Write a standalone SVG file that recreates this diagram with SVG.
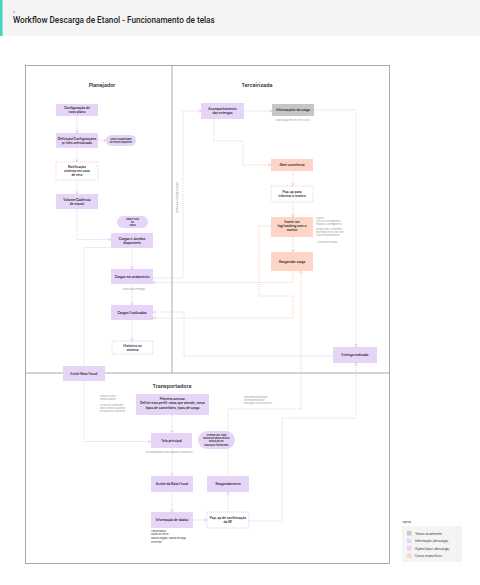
<svg xmlns="http://www.w3.org/2000/svg" width="480" height="585" viewBox="0 0 480 585">
<style>
.t{font-family:Inter,Roboto,"Liberation Sans",sans-serif;font-size:3.2px;font-weight:600;fill:#1f1f1f;text-anchor:middle}
.s{font-family:Inter,Roboto,"Liberation Sans",sans-serif;font-size:2.3px;font-weight:600;fill:#1f1f1f;text-anchor:middle}
.a{font-family:Inter,Roboto,"Liberation Sans",sans-serif;font-size:2.4px;fill:#9a9a9a}
.h{font-family:Inter,Roboto,"Liberation Sans",sans-serif;font-size:5.2px;font-weight:600;fill:#1f1f1f;text-anchor:middle}
.pu{fill:#e7d5f8}
.or{fill:#fdd4c6}
.gr{fill:#c6c6c6}
.dp{fill:#fff;stroke:#d9bdf5;stroke-width:0.8;stroke-dasharray:1 1}
.do{fill:#fff;stroke:#f8bfa9;stroke-width:0.8;stroke-dasharray:1 1}
.cp{fill:none;stroke:#dcc2f6;stroke-width:0.8;stroke-dasharray:1 1;marker-end:url(#mp)}
.co{fill:none;stroke:#f9c3ae;stroke-width:0.8;stroke-dasharray:1 1;marker-end:url(#mo)}
.cpn{fill:none;stroke:#dcc2f6;stroke-width:0.8;stroke-dasharray:1 1}
</style>
<defs>
<marker id="mp" viewBox="0 0 6 6" refX="5.5" refY="3" markerWidth="3.5" markerHeight="3.5" markerUnits="userSpaceOnUse" orient="auto"><path d="M0.5,0.5 L5.5,3 L0.5,5.5" fill="none" stroke="#d3b2f3" stroke-width="0.9"/></marker>
<marker id="mo" viewBox="0 0 6 6" refX="5.5" refY="3" markerWidth="3.5" markerHeight="3.5" markerUnits="userSpaceOnUse" orient="auto"><path d="M0.5,0.5 L5.5,3 L0.5,5.5" fill="none" stroke="#f6b59c" stroke-width="0.9"/></marker>
</defs>
<rect x="0" y="0" width="480" height="585" fill="#fff"/>
<g id="header">
<rect x="0" y="0" width="480" height="36" fill="#f4f4f4"/>
<rect x="0" y="0" width="2.5" height="36" fill="#3fd3c0"/>
<text x="13" y="12.5" style="font-family:Inter,Roboto,sans-serif;font-size:2.4px;fill:#555">v1</text>
<text x="13" y="22.5" style="font-family:Roboto,Inter,'Liberation Sans',sans-serif;font-size:8.2px;font-weight:500;fill:#1f1f1f">Workflow Descarga de Etanol - Funcionamento de telas</text>
</g>
<g id="frame" fill="none" stroke="#969696" stroke-width="0.8">
<rect x="25.5" y="65.5" width="364" height="498"/>
<line x1="172" y1="65.5" x2="172" y2="373"/>
<line x1="25.5" y1="373" x2="389.5" y2="373"/>
</g>
<text class="h" x="102" y="86.5">Planejador</text>
<text class="h" x="257" y="86.5">Terceirizada</text>
<text class="h" x="172" y="387.5">Transportadora</text>

<g id="connectors">
<path class="cp" d="M77,116 V133"/>
<path class="cp" d="M98,140.5 H106"/>
<path class="cp" d="M77,148 V162"/>
<path class="cp" d="M77,180 V194"/>
<path class="cp" d="M77,209 V239.5 H111"/>
<path class="cpn" d="M111,247.5 H84 V366"/>
<path class="cp" d="M84,381 V441.5 H151"/>
<path class="cp" d="M132,248 V269"/>
<path class="cp" d="M132,284 V305"/>
<path class="cp" d="M132,320 V341"/>
<path class="cp" d="M153,278 H183 V111 H201"/>
<path class="cp" d="M244,111 H272"/>
<path class="cp" d="M314,110 H356 V347"/>
<path class="cp" d="M333,356 H184 V312 H153"/>
<path class="co" d="M214,119 V141 H243 V165 H271"/>
<path class="co" d="M293,171 V186"/>
<path class="co" d="M293,202 V217"/>
<path class="co" d="M293,237 V252"/>
<path class="co" d="M293,271 V282.5 H153"/>
<path class="co" d="M271,226 H259 V296 H293 V318 H153"/>
<path class="co" d="M228,476 V409 H301 V271"/>
<path class="cp" d="M172,415 V433"/>
<path class="cp" d="M172,448 V476"/>
<path class="cp" d="M172,492 V512"/>
<path class="cp" d="M193,520 H207"/>
<path class="cp" d="M228,512 V492"/>
<path class="cp" d="M249,521 H282 V418 H356 V363"/>
</g>

<g id="n-config"><rect class="pu" x="56" y="104" width="42" height="12"/><text class="t" x="77" y="109.3">Configuração de</text><text class="t" x="77" y="113.3">novo plano</text></g>
<g id="n-definicao"><rect class="pu" x="56" y="133" width="42" height="15"/><text class="t" x="77" y="139.5">Definição/Configurações</text><text class="t" x="77" y="143.5">p/ mês selecionado</text></g>
<g id="n-exibir"><rect class="pu" x="106" y="135" width="30" height="11" rx="5.5"/><text class="s" x="121" y="140">Exibir a quantidade</text><text class="s" x="121" y="143">de etanol disponível</text></g>
<g id="n-notificacao"><rect class="do" x="56" y="162" width="42" height="18"/><text class="t" x="77" y="167.5">Notificação</text><text class="t" x="77" y="171.5">sistema em caso</text><text class="t" x="77" y="175.5">de erro</text></g>
<g id="n-volume"><rect class="pu" x="56" y="194" width="42" height="15"/><text class="t" x="77" y="200.5">Volume/Cadência</text><text class="t" x="77" y="204.5">de etanol</text></g>
<g id="n-data"><rect class="pu" x="117" y="216" width="31" height="12" rx="6"/><text class="s" x="132.5" y="220.3">Data e hora</text><text class="s" x="132.5" y="223.3">NF</text><text class="s" x="132.5" y="226.3">Placa</text></g>
<g id="n-janelas"><rect class="pu" x="111" y="233" width="42" height="15"/><text class="t" x="132" y="239.5">Cargas e Janelas</text><text class="t" x="132" y="243.5">disponíveis</text></g>
<g id="n-andamento"><rect class="pu" x="111" y="269" width="42" height="15"/><text class="t" x="132" y="277.6">Cargas em andamento</text></g>
<text class="a" x="134" y="289.5" text-anchor="middle">Status das entregas</text>
<g id="n-finalizadas"><rect class="pu" x="111" y="305" width="42" height="15"/><text class="t" x="132" y="313.6">Cargas Finalizadas</text></g>
<g id="n-historico"><rect class="dp" x="112" y="341" width="41" height="13"/><text class="t" x="132.5" y="346.6">Histórico no</text><text class="t" x="132.5" y="350.6">sistema</text></g>
<g id="n-emitir"><rect class="pu" x="63" y="366" width="42" height="15"/><text class="t" x="84" y="374.6">Emitir Nota Fiscal</text></g>

<text class="a" transform="translate(178,213) rotate(-90)">Status das entregas/cargas</text>
<g id="n-acompanhamento"><rect class="pu" x="201" y="103" width="43" height="16"/><text class="t" x="222.5" y="109.8">Acompanhamento</text><text class="t" x="222.5" y="113.8">das entregas</text></g>
<g id="n-informacoes"><rect class="gr" x="272" y="104" width="42" height="12"/><text class="t" x="293" y="111.2">Informações da carga</text></g>
<text class="a" x="293" y="120.5" text-anchor="middle" style="font-size:2.2px">cada carga deve ter um ID único</text>
<g id="n-abrir"><rect class="or" x="271" y="159" width="42" height="12"/><text class="t" x="292" y="166.2">Abrir ocorrência</text></g>
<g id="n-popup"><rect class="do" x="271" y="186" width="42" height="16"/><text class="t" x="292" y="192.8">Pop-up para</text><text class="t" x="292" y="196.8">informar o motivo</text></g>
<g id="n-inserir"><rect class="or" x="271" y="217" width="42" height="20"/><text class="t" x="292" y="222.8">Inserir um</text><text class="t" x="292" y="226.8">log/tracking com o</text><text class="t" x="292" y="230.8">motivo</text></g>
<g class="a" style="font-size:2.2px"><text x="316" y="219">Atrasos</text><text x="316" y="222">Veículo e carregamento</text><text x="316" y="225">finalizou o carregamento</text><text x="316" y="230">Chegou mas o caminhão</text><text x="316" y="233">não estava de acordo com</text><text x="316" y="236">o que era previamente</text><text x="316" y="243">- caminhão rejeitado</text></g>
<g id="n-reagendar"><rect class="or" x="271" y="252" width="42" height="19"/><text class="t" x="292" y="262.6">Reagendar carga</text></g>
<g id="n-entrega"><rect class="pu" x="333" y="347" width="44" height="16"/><text class="t" x="355" y="356.1">Entrega realizada</text></g>

<g class="a" style="font-size:2.2px"><text x="100" y="396.5">explorar com a</text><text x="100" y="399.5">transportadora</text><text x="100" y="405.5">os tipos de caminhões</text><text x="100" y="408.8">mais comum a cadastrar</text><text x="100" y="412.1">de nossa lista (backend)</text></g>
<g id="n-primeiro"><rect class="pu" x="136" y="394" width="73" height="21"/><text class="t" x="172.5" y="399.8">Primeiro acesso:</text><text class="t" x="172.5" y="404.3">Definir meu perfil: rotas que atende, meus</text><text class="t" x="172.5" y="408.8">tipos de caminhões, tipos de carga</text></g>
<g class="a" style="font-size:2.2px"><text x="244" y="397.5">Responde questionário,</text><text x="244" y="400.7">informa previsão de</text><text x="244" y="403.9">descarga e novos arquivos</text></g>
<g id="n-tela"><rect class="pu" x="151" y="433" width="41" height="15"/><text class="t" x="171.5" y="441.6">Tela principal</text></g>
<g id="n-ordenar"><rect class="pu" x="198" y="431" width="37" height="18" rx="9"/><text class="s" x="216.5" y="435.6">Ordenar por: Data</text><text class="s" x="216.5" y="439">Busca por placa veículo</text><text class="s" x="216.5" y="442.4">Busca por NF</text><text class="s" x="216.5" y="445.8">Busca por fornecedor</text></g>
<text class="a" x="146" y="453" style="font-size:2.2px">acompanhamento das cargas/NF disponíveis</text>
<g id="n-aceite"><rect class="pu" x="151" y="476" width="42" height="16"/><text class="t" x="172" y="485.1">Aceite da Nota Fiscal</text></g>
<g id="n-reagendamento"><rect class="pu" x="207" y="476" width="42" height="16"/><text class="t" x="228" y="485.1">Reagendamento</text></g>
<g id="n-dados"><rect class="pu" x="151" y="512" width="42" height="16"/><text class="t" x="172" y="521.1">Informação de dados</text></g>
<g style="font-family:Inter,Roboto,sans-serif;font-size:2px;fill:#333"><text x="151" y="531.5">Transportadora</text><text x="151" y="535.3">Modelo do veículo</text><text x="151" y="539.1">Data de chegada / Data de descarga</text><text x="151" y="542.9">Fornecedor</text></g>
<g id="n-confirmacao"><rect class="dp" x="207" y="512" width="42" height="16"/><text class="t" x="228" y="519">Pop-up de confirmação</text><text class="t" x="228" y="523">da NF</text></g>

<g id="legend">
<text x="402" y="523" style="font-family:Inter,Roboto,sans-serif;font-size:2.2px;fill:#333">Legenda</text>
<rect x="402" y="526" width="60" height="36" fill="#f4f4f4"/>
<rect x="407" y="531" width="4.5" height="4.5" fill="#c6c6c6"/>
<rect x="407" y="538.5" width="4.5" height="4.5" fill="#e7d5f8"/>
<rect x="407" y="546" width="4.5" height="4.5" fill="#e7d5f8"/>
<rect x="407" y="553.5" width="4.5" height="4.5" fill="#fdd4c6"/>
<g style="font-family:Inter,Roboto,sans-serif;font-size:3.1px;fill:#333"><text x="415" y="534.5">Temos atualmente</text><text x="415" y="542">Informação (descarga)</text><text x="415" y="549.5">Ações/Input (descarga)</text><text x="415" y="557">Casos específicos</text></g>
</g>
</svg>
